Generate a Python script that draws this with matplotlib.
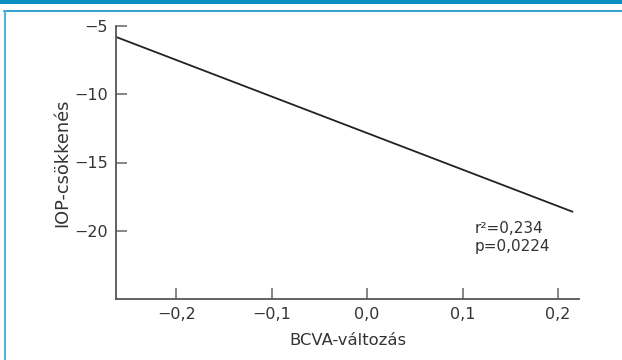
import matplotlib.pyplot as plt
from matplotlib.lines import Line2D
from matplotlib.patches import Rectangle

# regression line endpoints
bcva = [-0.263, 0.215]
iop = [-5.8, -18.6]
xticks = [-0.2, -0.1, 0.0, 0.1, 0.2]
xticklabels = ["\u22120,2", "\u22120,1", "0,0", "0,1", "0,2"]
yticks = [-5, -10, -15, -20]
yticklabels = ["\u22125", "\u221210", "\u221215", "\u221220"]
stats_text = "r\u00b2=0,234\np=0,0224"

W, H = 622, 360
fig = plt.figure(figsize=(W / 100, H / 100), dpi=100)

# frame decoration
blue = "#0a8fc2"
fig.add_artist(Rectangle((0, 1 - 4 / H), 1, 4 / H, transform=fig.transFigure,
                         color=blue, lw=0))
fig.add_artist(Line2D([4 / W, 1], [1 - 10.5 / H] * 2, transform=fig.transFigure,
                      color=blue, lw=1.2))
fig.add_artist(Line2D([4.5 / W] * 2, [0, 1 - 10.5 / H], transform=fig.transFigure,
                      color="#4cb6df", lw=1.5))

ax = fig.add_axes([116 / W, 1 - 299 / H, 463 / W, 273 / H])
ax.plot(bcva, iop, color="#222222", lw=1.3)

ax.set_xlim(-0.263, 0.222)
ax.set_ylim(-25, -5)
ax.set_xticks(xticks)
ax.set_xticklabels(xticklabels)
ax.set_yticks(yticks)
ax.set_yticklabels(yticklabels)

for s in ["top", "right"]:
    ax.spines[s].set_visible(False)
for s in ["left", "bottom"]:
    ax.spines[s].set_color("#555555")
    ax.spines[s].set_linewidth(1.3)

ax.tick_params(direction="in", length=8, width=1.1, color="#666666",
               labelsize=11.5, labelcolor="#333333", pad=6)

ax.set_xlabel("BCVA-v\u00e1ltoz\u00e1s", fontsize=11.8, color="#333333", labelpad=8)
ax.set_ylabel("IOP-cs\u00f6kken\u00e9s", fontsize=12.8, color="#333333", labelpad=2)

ax.text(0.113, -19.3, stats_text, fontsize=11, color="#333333",
        va="top", ha="left", linespacing=1.2)

fig.savefig("out.png", dpi=100)
